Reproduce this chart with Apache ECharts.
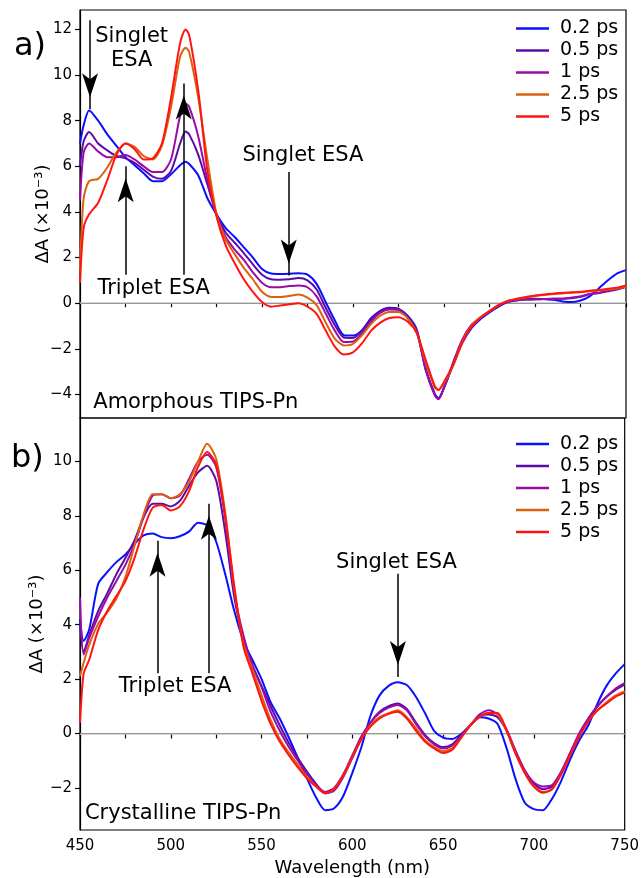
<!DOCTYPE html>
<html><head><meta charset="utf-8">
<script src="https://cdn.jsdelivr.net/npm/echarts@6/dist/echarts.min.js"></script>
<style>html,body{margin:0;padding:0;background:#fff}#c{width:642px;height:878px}</style>
</head><body><div id="c"></div>
<script>
const seriesNames = ['0.2 ps', '0.5 ps', '1 ps', '2.5 ps', '5 ps'];
const seriesColors = ['#0a10ff', '#5a0ca8', '#9a0ca8', '#dc6010', '#ff1410'];

// Panel a: amorphous TIPS-Pn
const wavelengthsA = [450,452,455,460,465,470,475,480,485,490,495,500,505,508,510,515,520,525,530,535,540,545,550,555,560,565,570,575,580,585,590,595,600,605,610,615,620,625,630,635,640,645,647,650,655,660,665,670,675,680,685,690,695,700,705,710,715,720,725,730,735,740,745,750];
const amorphous02 = [7.0,7.8,8.45,8.0,7.4,6.9,6.4,6.05,5.7,5.35,5.35,5.65,6.05,6.2,6.1,5.6,4.6,3.9,3.3,2.9,2.45,2.0,1.5,1.3,1.28,1.29,1.31,1.25,0.85,0.05,-0.75,-1.4,-1.42,-1.18,-0.65,-0.33,-0.2,-0.25,-0.55,-1.15,-2.9,-4.0,-4.15,-3.7,-2.7,-1.75,-1.1,-0.7,-0.4,-0.15,0.05,0.12,0.18,0.2,0.18,0.15,0.08,0.05,0.12,0.3,0.65,1.0,1.3,1.45];
const amorphous05 = [6.0,7.1,7.5,7.0,6.7,6.45,6.35,6.15,5.85,5.55,5.45,5.8,7.0,7.52,7.4,6.5,5.2,3.9,3.1,2.65,2.2,1.7,1.25,1.05,1.03,1.05,1.1,1.0,0.6,-0.2,-0.95,-1.5,-1.52,-1.2,-0.7,-0.35,-0.22,-0.25,-0.6,-1.2,-2.9,-4.0,-4.2,-3.7,-2.65,-1.65,-1.0,-0.65,-0.35,-0.1,0.08,0.15,0.16,0.17,0.18,0.2,0.2,0.22,0.28,0.4,0.45,0.52,0.6,0.72];
const amorphous1 = [4.5,6.6,7.0,6.65,6.4,6.4,6.5,6.3,6.0,5.75,5.75,6.3,8.2,8.75,8.6,7.3,5.4,3.9,2.9,2.35,1.9,1.35,0.9,0.7,0.7,0.75,0.78,0.7,0.3,-0.45,-1.2,-1.7,-1.68,-1.3,-0.8,-0.42,-0.28,-0.3,-0.65,-1.25,-2.95,-4.05,-4.2,-3.7,-2.6,-1.6,-0.95,-0.62,-0.35,-0.1,0.1,0.15,0.16,0.17,0.18,0.2,0.2,0.25,0.3,0.4,0.45,0.55,0.62,0.72];
const amorphous25 = [1.5,4.6,5.35,5.45,5.95,6.6,7.0,6.85,6.45,6.3,6.9,8.6,10.8,11.2,11.0,9.0,6.3,3.9,2.8,2.15,1.55,1.05,0.5,0.27,0.27,0.32,0.38,0.25,-0.08,-0.85,-1.55,-1.85,-1.78,-1.4,-0.9,-0.55,-0.38,-0.38,-0.65,-1.3,-2.6,-3.7,-3.8,-3.5,-2.75,-1.7,-1.0,-0.62,-0.35,-0.08,0.1,0.18,0.25,0.32,0.36,0.4,0.43,0.46,0.48,0.52,0.56,0.6,0.65,0.72];
const amorphous5 = [0.9,3.3,3.9,4.4,5.4,6.5,7.0,6.75,6.3,6.35,7.0,9.0,11.4,12.0,11.75,9.3,5.8,3.8,2.55,1.75,1.05,0.5,0.05,-0.15,-0.1,-0.05,0.0,-0.15,-0.47,-1.2,-1.9,-2.25,-2.15,-1.75,-1.2,-0.85,-0.65,-0.62,-0.8,-1.3,-2.5,-3.65,-3.8,-3.45,-2.7,-1.75,-1.05,-0.65,-0.35,-0.08,0.08,0.2,0.27,0.34,0.38,0.42,0.46,0.48,0.5,0.55,0.58,0.63,0.68,0.78];

// Panel b: crystalline TIPS-Pn
const wavelengthsB = [450,452,455,460,465,470,475,480,485,490,495,500,505,510,515,520,525,530,535,540,545,550,555,560,565,570,575,580,585,590,595,600,605,610,615,620,625,630,635,640,645,650,655,660,665,670,675,680,685,690,695,700,705,710,715,720,725,730,735,740,745,750];
const crystalline02 = [4.2,3.4,3.8,5.5,5.93,6.3,6.58,6.97,7.28,7.35,7.22,7.18,7.25,7.42,7.75,7.65,7.05,5.85,4.5,3.4,2.7,2.0,1.15,0.55,-0.15,-0.9,-1.65,-2.35,-2.82,-2.75,-2.3,-1.45,-0.5,0.65,1.4,1.75,1.88,1.78,1.35,0.75,0.1,-0.15,-0.2,-0.02,0.3,0.6,0.55,0.35,-0.55,-1.7,-2.55,-2.78,-2.82,-2.4,-1.75,-0.95,-0.25,0.3,1.1,1.75,2.2,2.55];
const crystalline05 = [4.0,3.0,3.6,4.5,5.15,5.85,6.45,7.1,7.95,8.45,8.45,8.35,8.55,9.1,9.6,9.84,9.3,7.4,5.0,3.5,2.5,1.75,1.0,0.3,-0.35,-0.9,-1.4,-1.85,-2.2,-2.1,-1.6,-0.9,-0.2,0.4,0.8,1.0,1.1,0.9,0.4,-0.05,-0.35,-0.5,-0.4,-0.05,0.3,0.65,0.7,0.6,0.1,-0.7,-1.4,-1.85,-2.05,-1.95,-1.45,-0.75,0.0,0.55,1.0,1.35,1.6,1.8];
const crystalline1 = [5.0,2.9,3.5,4.3,5.0,5.6,6.2,6.95,7.95,8.75,8.8,8.65,8.75,9.35,10.0,10.25,9.8,7.9,5.2,3.6,2.5,1.7,0.8,0.1,-0.5,-1.0,-1.5,-1.9,-2.15,-2.0,-1.5,-0.8,-0.1,0.4,0.75,0.95,1.05,0.85,0.35,-0.1,-0.4,-0.55,-0.45,-0.1,0.3,0.7,0.85,0.7,0.15,-0.65,-1.35,-1.8,-1.95,-1.9,-1.4,-0.7,0.0,0.55,1.0,1.35,1.65,1.85];
const crystalline25 = [2.1,2.6,3.25,4.03,4.45,4.95,5.75,6.9,8.05,8.8,8.8,8.65,8.8,9.25,10.0,10.65,10.1,8.1,5.3,3.3,2.35,1.4,0.5,-0.2,-0.7,-1.15,-1.6,-1.95,-2.2,-2.05,-1.55,-0.85,-0.2,0.3,0.6,0.75,0.85,0.6,0.2,-0.25,-0.5,-0.65,-0.55,-0.15,0.3,0.6,0.75,0.7,0.1,-0.75,-1.45,-1.95,-2.15,-2.05,-1.5,-0.8,-0.1,0.45,0.85,1.15,1.4,1.55];
const crystalline5 = [0.4,2.2,2.7,3.8,4.5,5.05,5.6,6.45,7.5,8.3,8.4,8.2,8.35,8.9,9.8,10.35,9.9,8.0,5.4,3.2,2.2,1.2,0.35,-0.3,-0.8,-1.25,-1.65,-1.95,-2.2,-2.05,-1.55,-0.85,-0.2,0.25,0.55,0.72,0.8,0.55,0.1,-0.3,-0.55,-0.72,-0.6,-0.15,0.3,0.6,0.75,0.75,0.1,-0.75,-1.45,-1.95,-2.18,-2.05,-1.5,-0.8,-0.1,0.45,0.85,1.1,1.35,1.5];

// Ticks
const xTickLabels = [450, 500, 550, 600, 650, 700, 750];
const xTickMarks = [450, 475, 500, 525, 550, 575, 600, 625, 650, 675, 700, 725, 750];
const yTickLabelsA = [-4, -2, 0, 2, 4, 6, 8, 10, 12];
const yTickLabelsB = [-2, 0, 2, 4, 6, 8, 10];

// Annotations (data coordinates)
const annotTextA = ['Singlet\nESA', 'Triplet ESA', 'Singlet ESA'];
const annotAtA = [[478.4, 11.14], [490.5, 0.63], [572.5, 6.48]];
const arrowsA = [[455.5, 12.4, 8.5], [475.1, 1.25, 6.0], [507, 1.25, 9.63], [564.7, 5.75, 1.22]];
const annotTextB = ['Triplet ESA', 'Singlet ESA'];
const annotAtB = [[502.4, 1.71], [624.3, 6.29]];
const arrowsB = [[492.7, 2.21, 7.09], [521, 2.21, 8.45], [625.1, 5.87, 2.08]];
const sampleNameA = ['Amorphous TIPS-Pn', 457.3, -4.35];
const sampleNameB = ['Crystalline TIPS-Pn', 452.7, -2.93];

const FONT = 'DejaVu Sans';
const seriesA = [amorphous02, amorphous05, amorphous1, amorphous25, amorphous5];
const seriesB = [crystalline02, crystalline05, crystalline1, crystalline25, crystalline5];
const fmt = v => (v < 0 ? '\u2212' + Math.abs(v) : String(v));

function lineSeries(wl, vals, i, gi) {
  return {
    type: 'line', name: seriesNames[i], xAxisIndex: gi, yAxisIndex: gi,
    data: wl.map((w, k) => [w, vals[k]]),
    showSymbol: false, symbol: 'none', smooth: 0.25,
    lineStyle: { width: 2, color: seriesColors[i] }, itemStyle: { color: seriesColors[i] },
    z: 3 + i, silent: true
  };
}

const textLabel = { fontFamily: FONT, fontSize: 21, color: '#000', opacity: 1, textBorderWidth: 0, textBorderColor: 'transparent', textShadowBlur: 0 };

function annotSeries(gi, texts, at, arrows, sample) {
  const data = at.map((p, k) => ({ value: [p[0], p[1]], text: texts[k] }));
  return [{
    type: 'scatter', xAxisIndex: gi, yAxisIndex: gi, symbolSize: 0, silent: true, z: 10,
    itemStyle: { opacity: 1, color: '#000' },
    data: data,
    label: Object.assign({ show: true, position: 'inside', formatter: p => p.data.text,
      lineHeight: 24, align: 'center', verticalAlign: 'middle' }, textLabel),
    markLine: {
      silent: true, animation: false, z: 10,
      lineStyle: { color: '#000', width: 1.5, type: 'solid', opacity: 1 },
      itemStyle: { color: '#000', opacity: 1 },
      label: { show: false },
      data: arrows.map(a => [
        { coord: [a[0], a[1]], symbol: 'none' },
        { coord: [a[0], a[2]], symbol: 'arrow', symbolSize: [12, 24], symbolOffset: [0, 12] }
      ])
    }
  }, {
    type: 'scatter', xAxisIndex: gi, yAxisIndex: gi, symbolSize: 0, silent: true, z: 10,
    itemStyle: { opacity: 1, color: '#000' },
    data: [[sample[1], sample[2]]],
    label: Object.assign({ show: true, position: 'right', distance: 0, formatter: () => sample[0] }, textLabel),
    markLine: {
      silent: true, animation: false, symbol: 'none', z: 1,
      lineStyle: { color: '#c8c8c8', width: 1.6, type: 'solid', opacity: 1 },
      label: { show: false },
      data: [{ yAxis: 0 }]
    }
  }];
}

const legendCommon = {
  data: seriesNames, orient: 'vertical', left: 516, icon: 'rect', padding: 0,
  itemWidth: 33, itemHeight: 2.5, itemGap: 0, selectedMode: false,
  textStyle: { fontFamily: FONT, fontSize: 19, lineHeight: 22, color: '#000', padding: [0, 0, 0, 6] }
};

const axisCommonY = {
  type: 'value',
  axisLine: { show: true, lineStyle: { color: '#000', width: 1.2 } },
  axisTick: { show: true, length: 5, lineStyle: { color: '#000', width: 1.2 } },
  splitLine: { show: false },
  axisLabel: { fontFamily: FONT, fontSize: 15, color: '#000', margin: 8, formatter: fmt },
  nameLocation: 'middle', nameRotate: 90, nameMoveOverlap: false,
  nameTextStyle: { fontFamily: FONT, fontSize: 18, color: '#000' }
};

const option = {
  backgroundColor: '#fff',
  animation: false,
  grid: [
    { left: 80, right: 16, top: 10, height: 408, show: true, borderColor: '#000', borderWidth: 1.2, backgroundColor: 'transparent' },
    { left: 80, right: 16, top: 418, height: 412, show: true, borderColor: '#000', borderWidth: 1.2, backgroundColor: 'transparent' }
  ],
  xAxis: [
    { type: 'value', gridIndex: 0, min: 450, max: 750, interval: 50,
      axisLine: { show: true, lineStyle: { color: '#000', width: 1.2 } },
      axisTick: { show: true, length: 4, customValues: xTickMarks, lineStyle: { color: '#000', width: 1.2 } },
      axisLabel: { show: false }, splitLine: { show: false } },
    { type: 'value', gridIndex: 1, min: 450, max: 750, interval: 50,
      axisLine: { show: true, lineStyle: { color: '#000', width: 1.2 } },
      axisTick: { show: true, length: 5, customValues: xTickMarks, lineStyle: { color: '#000', width: 1.2 } },
      axisLabel: { fontFamily: FONT, fontSize: 15, color: '#000', margin: 9, customValues: xTickLabels },
      splitLine: { show: false },
      name: 'Wavelength (nm)', nameLocation: 'middle', nameGap: 29,
      nameTextStyle: { fontFamily: FONT, fontSize: 18, color: '#000' } }
  ],
  yAxis: [
    Object.assign({}, axisCommonY, { gridIndex: 0, min: -5.03, max: 12.85,
      name: '\u0394A (\u00d710\u207b\u00b3)', nameGap: 28,
      axisTick: Object.assign({}, axisCommonY.axisTick, { customValues: yTickLabelsA }),
      axisLabel: Object.assign({}, axisCommonY.axisLabel, { customValues: yTickLabelsA }) }),
    Object.assign({}, axisCommonY, { gridIndex: 1, min: -3.55, max: 11.6,
      name: '\u0394A (\u00d710\u207b\u00b3)', nameGap: 34,
      axisTick: Object.assign({}, axisCommonY.axisTick, { customValues: yTickLabelsB }),
      axisLabel: Object.assign({}, axisCommonY.axisLabel, { customValues: yTickLabelsB }) })
  ],
  legend: [
    Object.assign({}, legendCommon, { top: 17.5 }),
    Object.assign({}, legendCommon, { top: 433 })
  ],
  graphic: [
    { type: 'text', left: 14, top: 31, style: { text: 'a)', fontFamily: FONT, fontSize: 32, fill: '#000' } },
    { type: 'text', left: 11, top: 443, style: { text: 'b)', fontFamily: FONT, fontSize: 32, fill: '#000' } }
  ],
  series: [
    ...seriesA.map((v, i) => lineSeries(wavelengthsA, v, i, 0)),
    ...seriesB.map((v, i) => lineSeries(wavelengthsB, v, i, 1)),
    ...annotSeries(0, annotTextA, annotAtA, arrowsA, sampleNameA),
    ...annotSeries(1, annotTextB, annotAtB, arrowsB, sampleNameB)
  ]
};

const chart = echarts.init(document.getElementById('c'), null, { renderer: 'canvas' });
chart.setOption(option);
</script></body></html>
